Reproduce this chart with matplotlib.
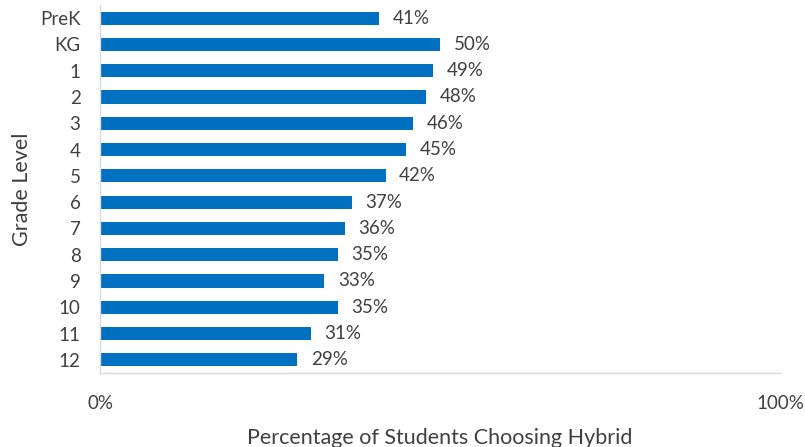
import matplotlib.pyplot as plt

grades = ['PreK', 'KG', '1', '2', '3', '4', '5', '6', '7', '8', '9', '10', '11', '12']
hybrid_pct = [41, 50, 49, 48, 46, 45, 42, 37, 36, 35, 33, 35, 31, 29]

plt.rcParams['font.family'] = ['Lato', 'DejaVu Sans']
text_color = '#404040'

fig = plt.figure(figsize=(8.05, 4.47), dpi=100)
ax = fig.add_axes([100 / 805, 74 / 447, 680 / 805, 368 / 447])

ypos = list(range(len(grades)))
ax.barh(ypos, hybrid_pct, height=0.5, color='#0070C0')
for y, v in zip(ypos, hybrid_pct):
    ax.text(v + 2, y, f'{v}%', va='center', ha='left', fontsize=13.5, color=text_color)

ax.set_xlim(0, 100)
ax.set_ylim(len(grades) - 0.5, -0.5)
ax.set_yticks(ypos)
ax.set_yticklabels(grades)
ax.set_xticks([0, 100])
ax.set_xticklabels(['0%', '100%'])
ax.tick_params(axis='both', length=0, labelsize=13.5, colors=text_color)
ax.tick_params(axis='x', pad=16)
ax.tick_params(axis='y', pad=14)

for side in ['top', 'right']:
    ax.spines[side].set_visible(False)
for side in ['left', 'bottom']:
    ax.spines[side].set_color('#d9d9d9')
    ax.spines[side].set_linewidth(1)

ax.set_xlabel('Percentage of Students Choosing Hybrid', fontsize=15.5, color=text_color, labelpad=11)
ax.set_ylabel('Grade Level', fontsize=15.5, color=text_color, labelpad=6)

fig.savefig('out.png', dpi=100)
